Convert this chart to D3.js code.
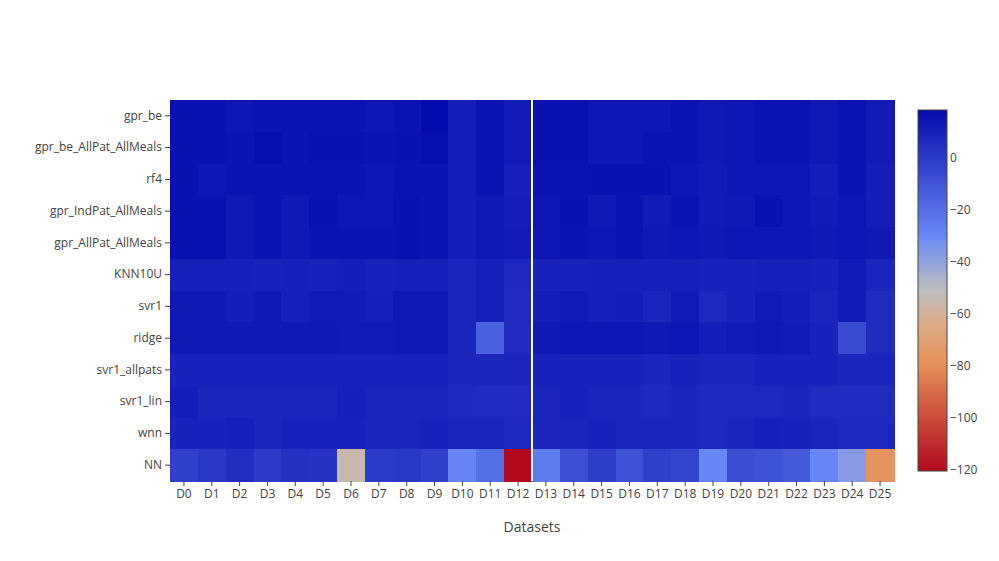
<!DOCTYPE html>
<html>
<head>
<meta charset="utf-8">
<script src="https://cdn.jsdelivr.net/npm/d3@7"></script>
<style>
  body { margin: 0; background: #fff; }
  svg { font-family: "Open Sans", sans-serif; }
</style>
</head>
<body>
<svg id="chart"></svg>
<script>
const width = 999, height = 561;
const marginLeft = 170, marginRight = 105, marginTop = 100, marginBottom = 80;

// datasets on x, models on y (top to bottom)
const datasets = d3.range(26).map(i => "D" + i);
const models = ["gpr_be", "gpr_be_AllPat_AllMeals", "rf4", "gpr_IndPat_AllMeals", "gpr_AllPat_AllMeals",
  "KNN10U", "svr1", "ridge", "svr1_allpats", "svr1_lin", "wnn", "NN"];

// one array per model
const gpr_be = [16, 16, 14, 15, 15, 15, 15, 14, 15, 18.6, 11, 15, 12, 16, 16, 14, 14, 14, 15, 13, 14, 15, 15, 13, 15, 12];
const gpr_be_AllPat_AllMeals = [16, 16, 15, 17, 15, 16, 16, 15, 16, 17, 11, 15, 12, 16, 16, 14, 14, 15, 15, 13, 14, 15, 15, 13, 15, 12];
const rf4 = [16, 14, 15, 15, 15, 15, 15, 14, 15, 15, 11, 15, 10, 15, 15, 16, 16, 16, 14, 12, 14, 14, 14, 11, 15, 11];
const gpr_IndPat_AllMeals = [16, 16, 13, 15, 13, 16, 14, 14, 16, 15, 11, 13, 11, 14, 16, 13, 15, 12, 15, 12, 13, 16, 14, 12, 14, 11];
const gpr_AllPat_AllMeals = [16, 16, 13, 15, 13, 15, 15, 15, 16, 15, 11, 13, 12, 14, 15, 14, 15, 13, 14, 13, 14, 14, 14, 13, 14, 13];
const KNN10U = [10, 10, 10, 9, 10, 9, 11, 9, 10, 10, 8, 10, 7, 9, 9, 10, 10, 10, 10, 9, 9, 10, 10, 9, 12, 8];
const svr1 = [13, 13, 11, 13, 10, 12, 12, 10, 13, 13, 8, 10, 6, 11, 12, 10, 11, 8, 12, 7, 9, 12, 11, 8, 12, 6];
const ridge = [13, 13, 13, 13, 13, 13, 12, 12, 13, 13, 8, -15, 6, 13, 14, 14, 14, 13, 14, 11, 12, 13, 12, 9, -6, 6];
const svr1_allpats = [9, 9, 9, 9, 9, 9, 9, 9, 9, 9, 8, 8, 8, 9, 9, 9, 9, 8, 9, 8, 8, 9, 9, 9, 8, 8];
const svr1_lin = [11, 8, 8, 8, 8, 8, 10, 8, 8, 8, 7, 6, 6, 8, 9, 8, 8, 7, 8, 7, 7, 7, 8, 6, 6, 6];
const wnn = [9, 9, 10, 8, 9, 9, 9, 8, 8, 9, 8, 8, 7, 8, 8, 9, 8, 8, 8, 7, 8, 10, 9, 8, 7, 7];
const NN = [-2, 1, 5, 0, 4, 3, -55, 0, 1, -2, -28, -20, -120.5, -25, -8, -1, -9, -2, -4, -29, -7, -9, -12, -29, -37, -77];

const rows = [gpr_be, gpr_be_AllPat_AllMeals, rf4, gpr_IndPat_AllMeals, gpr_AllPat_AllMeals,
  KNN10U, svr1, ridge, svr1_allpats, svr1_lin, wnn, NN];

const colorbarTicks = [0, -20, -40, -60, -80, -100, -120];
// divider between D12 and D13
const dividerAfter = "D12";

const cells = [];
rows.forEach((r, i) => r.forEach((v, j) => cells.push({model: models[i], ds: datasets[j], value: v})));

const zmin = d3.min(cells, d => d.value), zmax = d3.max(cells, d => d.value);

// plotly RdBu, reversed
const rdbu = [[0, "rgb(5,10,172)"], [0.35, "rgb(106,137,247)"], [0.5, "rgb(190,190,190)"],
  [0.6, "rgb(220,170,132)"], [0.7, "rgb(230,145,90)"], [1, "rgb(178,10,28)"]];
const color = d3.scaleLinear()
  .domain(rdbu.map(s => zmax - s[0] * (zmax - zmin)))
  .range(rdbu.map(s => s[1]))
  .interpolate(d3.interpolateRgb);

const svg = d3.select("#chart")
  .attr("width", width)
  .attr("height", height)
  .attr("viewBox", [0, 0, width, height]);

const x = d3.scaleBand().domain(datasets).range([marginLeft, width - marginRight + 0]).padding(0);
x.range([marginLeft, 894]);
const y = d3.scaleBand().domain(models).range([marginTop, height - marginBottom]).padding(0);

svg.append("g")
  .attr("shape-rendering", "crispEdges")
  .selectAll("rect")
  .data(cells)
  .join("rect")
  .attr("x", d => x(d.ds))
  .attr("y", d => y(d.model))
  .attr("width", x.bandwidth() + 0.5)
  .attr("height", y.bandwidth() + 0.5)
  .attr("fill", d => color(d.value));

// white divider line
const xDiv = x(dividerAfter) + x.bandwidth();
svg.append("line")
  .attr("x1", xDiv).attr("x2", xDiv)
  .attr("y1", y.range()[0]).attr("y2", y.range()[1])
  .attr("stroke", "#fff")
  .attr("stroke-width", 2);

// axes
const xAxis = svg.append("g")
  .attr("transform", `translate(0,${y.range()[1]})`)
  .call(d3.axisBottom(x).tickSize(5).tickPadding(3));
const yAxis = svg.append("g")
  .attr("transform", `translate(${marginLeft},0)`)
  .call(d3.axisLeft(y).tickSize(5).tickPadding(3));

[xAxis, yAxis].forEach(a => {
  a.select(".domain").remove();
  a.selectAll(".tick line").attr("stroke", "#444");
  a.selectAll(".tick text")
    .attr("fill", "#444")
    .style("font-family", "'Open Sans', sans-serif")
    .style("font-size", "12px");
});

svg.append("text")
  .attr("x", (x.range()[0] + x.range()[1]) / 2)
  .attr("y", 532)
  .attr("text-anchor", "middle")
  .attr("fill", "#444")
  .style("font-size", "14px")
  .text("Datasets");

// colorbar
const cbX = 918, cbW = 29, cbTop = 110, cbBottom = 471;
const cbScale = d3.scaleLinear().domain([zmin, zmax]).range([cbBottom, cbTop]);

const grad = svg.append("defs").append("linearGradient")
  .attr("id", "cbgrad")
  .attr("x1", 0).attr("x2", 0).attr("y1", 0).attr("y2", 1);
grad.selectAll("stop")
  .data(rdbu)
  .join("stop")
  .attr("offset", d => d[0])
  .attr("stop-color", d => d[1]);

svg.append("rect")
  .attr("x", cbX).attr("y", cbTop)
  .attr("width", cbW).attr("height", cbBottom - cbTop)
  .attr("fill", "url(#cbgrad)")
  .attr("stroke", "#444")
  .attr("stroke-width", 1);

svg.append("g")
  .selectAll("text")
  .data(colorbarTicks)
  .join("text")
  .attr("x", cbX + cbW + 3)
  .attr("y", d => cbScale(d))
  .attr("dy", "0.35em")
  .attr("fill", "#444")
  .style("font-size", "12px")
  .text(d => d3.format("")(d).replace("-", "\u2212"));
</script>
</body>
</html>
